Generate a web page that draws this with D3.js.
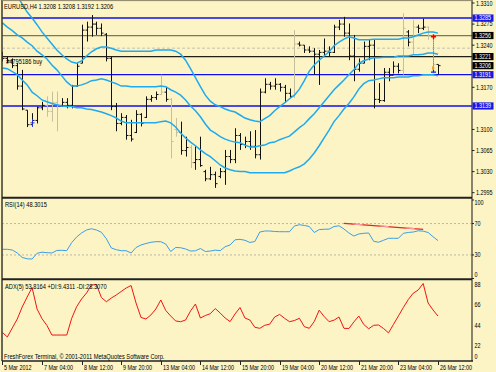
<!DOCTYPE html>
<html><head><meta charset="utf-8">
<script src="https://cdn.jsdelivr.net/npm/d3@7"></script>
<style>
html,body{margin:0;padding:0;background:#fcf4c4;}
svg{display:block;}
text{font-family:"Liberation Sans",Arial,sans-serif;font-size:6.8px;fill:#000;}
</style></head><body><svg id="c" width="496" height="372"></svg>
<script>
// ---------- data ----------
const title = "EURUSD,H4 1.3208 1.3208 1.3192 1.3206";
const rsiTitle = "RSI(14) 48.3015";
const adxTitle = "ADX(5) 53.8164 +DI:9.4311 -DI:28.3070";
const copyright = "FreshForex Terminal, \u00a9 2001-2011 MetaQuotes Software Corp.";
const orderText = "#4795186 buy";

const dateLabels = ["5 Mar 2012","7 Mar 04:00","8 Mar 12:00","9 Mar 20:00","13 Mar 04:00","14 Mar 12:00","15 Mar 20:00","19 Mar 04:00","20 Mar 12:00","21 Mar 20:00","23 Mar 04:00","26 Mar 12:00"];
const dateBars = [0,8,16,24,32,40,48,56,64,72,80,88];

const high = [1.3229,1.3221,1.3218,1.3210,1.3199,1.3132,1.3127,1.3138,1.3146,1.3155,
1.3163,1.3163,1.3152,1.3152,1.3174,1.3210,1.3274,1.3279,1.3290,1.3279,
1.3276,1.3260,1.3221,1.3144,1.3127,1.3124,1.3116,1.3132,1.3127,1.3155,
1.3157,1.3163,1.3191,1.3171,1.3152,1.3119,1.3113,1.3088,1.3074,1.3072,
1.3088,1.3033,1.3038,1.3030,1.3036,1.3066,1.3066,1.3102,1.3094,1.3088,
1.3097,1.3099,1.3168,1.3185,1.3179,1.3185,1.3177,1.3174,1.3168,1.3265,
1.3246,1.3240,1.3238,1.3235,1.3232,1.3251,1.3238,1.3274,1.3282,1.3287,
1.3276,1.3257,1.3218,1.3246,1.3249,1.3249,1.3177,1.3202,1.3202,1.3213,
1.3210,1.3293,1.3265,1.3282,1.3274,1.3284,1.3271,1.3256,1.3208];
const low = [1.3213,1.3210,1.3202,1.3166,1.3132,1.3104,1.3105,1.3110,1.3132,1.3121,
1.3113,1.3097,1.3138,1.3135,1.3135,1.3171,1.3210,1.3246,1.3254,1.3257,
1.3255,1.3213,1.3132,1.3097,1.3107,1.3083,1.3080,1.3094,1.3105,1.3119,
1.3146,1.3149,1.3157,1.3146,1.3052,1.3088,1.3058,1.3055,1.3036,1.3033,
1.3038,1.3014,1.3016,1.3003,1.3019,1.3008,1.3044,1.3044,1.3066,1.3069,
1.3066,1.3052,1.3050,1.3160,1.3166,1.3166,1.3163,1.3144,1.3152,1.3152,
1.3238,1.3227,1.3227,1.3191,1.3174,1.3221,1.3221,1.3227,1.3265,1.3254,
1.3215,1.3180,1.3196,1.3210,1.3215,1.3135,1.3144,1.3146,1.3180,1.3193,
1.3193,1.3191,1.3238,1.3224,1.3260,1.3265,1.3249,1.3193,1.3192];
const open = [1.3225,1.3218,1.3214,1.3206,1.3172,1.3132,1.3108,1.3115,1.3136,1.3140,
1.3130,1.3145,1.3140,1.3145,1.3140,1.3172,1.3210,1.3265,1.3270,1.3275,
1.3268,1.3258,1.3218,1.3138,1.3110,1.3120,1.3090,1.3095,1.3125,1.3120,
1.3150,1.3153,1.3158,1.3162,1.3150,1.3100,1.3095,1.3065,1.3070,1.3045,
1.3050,1.3030,1.3018,1.3025,1.3022,1.3030,1.3055,1.3050,1.3090,1.3075,
1.3080,1.3072,1.3058,1.3162,1.3175,1.3172,1.3175,1.3170,1.3160,1.3155,
1.3242,1.3240,1.3232,1.3230,1.3225,1.3228,1.3230,1.3228,1.3270,1.3275,
1.3260,1.3222,1.3200,1.3210,1.3238,1.3240,1.3150,1.3148,1.3195,1.3190,
1.3205,1.3198,1.3262,1.3245,1.3270,1.3268,1.3270,1.3255,1.3208];
const close = [1.3218,1.3214,1.3206,1.3172,1.3134,1.3108,1.3115,1.3136,1.3140,1.3130,
1.3145,1.3140,1.3145,1.3140,1.3172,1.3205,1.3265,1.3270,1.3275,1.3268,
1.3260,1.3218,1.3138,1.3110,1.3120,1.3090,1.3084,1.3125,1.3110,1.3150,
1.3153,1.3158,1.3162,1.3150,1.3080,1.3095,1.3065,1.3070,1.3045,1.3050,
1.3040,1.3018,1.3025,1.3010,1.3030,1.3055,1.3050,1.3090,1.3075,1.3080,
1.3072,1.3058,1.3162,1.3175,1.3172,1.3175,1.3170,1.3160,1.3155,1.3242,
1.3240,1.3232,1.3230,1.3225,1.3228,1.3230,1.3228,1.3270,1.3275,1.3260,
1.3222,1.3200,1.3210,1.3238,1.3240,1.3150,1.3148,1.3195,1.3190,1.3205,
1.3198,1.3268,1.3245,1.3270,1.3268,1.3270,1.3255,1.3208,1.3206];
// bars shown in the lighter tone
const lightBars = [9,10,11,32,34,35,38,59,81,83,86,87];

const bbUpper = [1.3358,1.3346,1.3333,1.3322,1.3308,1.3295,1.3285,1.3274,1.3262,1.3252,
1.3242,1.3232,1.3224,1.3217,1.3212,1.3210,1.3214,1.3222,1.3229,1.3234,
1.3237,1.3237,1.3235,1.3232,1.3230,1.3230,1.3230,1.3230,1.3230,1.3230,
1.3230,1.3232,1.3232,1.3232,1.3232,1.3230,1.3225,1.3215,1.3201,1.3186,
1.3171,1.3157,1.3147,1.3141,1.3138,1.3134,1.3131,1.3129,1.3124,1.3119,
1.3116,1.3114,1.3113,1.3118,1.3123,1.3131,1.3138,1.3144,1.3151,1.3157,
1.3167,1.3181,1.3197,1.3207,1.3215,1.3222,1.3229,1.3239,1.3245,1.3250,
1.3254,1.3252,1.3249,1.3249,1.3249,1.3250,1.3250,1.3250,1.3250,1.3250,
1.3250,1.3252,1.3252,1.3254,1.3257,1.3260,1.3262,1.3262,1.3260];
const bbMiddle = [1.3277,1.3270,1.3264,1.3257,1.3252,1.3245,1.3239,1.3230,1.3224,1.3217,
1.3207,1.3199,1.3189,1.3179,1.3172,1.3172,1.3174,1.3177,1.3181,1.3182,
1.3184,1.3182,1.3179,1.3176,1.3172,1.3172,1.3171,1.3171,1.3171,1.3171,
1.3171,1.3171,1.3172,1.3171,1.3166,1.3162,1.3157,1.3149,1.3139,1.3131,
1.3121,1.3109,1.3099,1.3094,1.3088,1.3084,1.3081,1.3079,1.3078,1.3074,
1.3071,1.3071,1.3073,1.3074,1.3078,1.3079,1.3083,1.3086,1.3089,1.3096,
1.3103,1.3109,1.3118,1.3126,1.3136,1.3146,1.3156,1.3166,1.3174,1.3182,
1.3191,1.3199,1.3210,1.3214,1.3217,1.3219,1.3219,1.3220,1.3220,1.3220,
1.3222,1.3222,1.3222,1.3224,1.3224,1.3225,1.3227,1.3227,1.3225];
const bbLower = [1.3202,1.3201,1.3196,1.3191,1.3182,1.3174,1.3162,1.3156,1.3149,1.3146,
1.3143,1.3141,1.3139,1.3138,1.3138,1.3136,1.3136,1.3134,1.3133,1.3131,
1.3129,1.3126,1.3123,1.3119,1.3114,1.3111,1.3111,1.3111,1.3111,1.3111,
1.3111,1.3111,1.3113,1.3114,1.3111,1.3104,1.3094,1.3086,1.3079,1.3073,
1.3066,1.3060,1.3055,1.3048,1.3041,1.3036,1.3033,1.3031,1.3030,1.3030,
1.3028,1.3028,1.3028,1.3028,1.3028,1.3028,1.3028,1.3028,1.3031,1.3035,
1.3038,1.3043,1.3051,1.3061,1.3073,1.3086,1.3099,1.3113,1.3123,1.3134,
1.3143,1.3154,1.3167,1.3176,1.3181,1.3182,1.3184,1.3186,1.3186,1.3186,
1.3187,1.3187,1.3187,1.3189,1.3189,1.3191,1.3191,1.3191,1.3189];

const rsi = [37.2,37.2,36.3,32.5,26.8,25.1,24.8,32.1,33.5,32.9,
32.5,35.7,35.9,35.5,45.7,52.9,58.0,61.8,63.4,61.8,
58.9,50.6,38.9,36.7,35.4,35.4,32.5,39.5,42.7,44.6,
46.1,46.9,46.9,43.9,34.4,39.5,39.2,37.6,35.0,35.3,
38.2,34.4,35.0,36.1,35.5,40.5,42.7,49.3,49.9,48.7,
45.9,47.1,59.2,60.5,60.5,59.9,59.6,59.6,59.6,66.9,
68.5,67.6,66.2,58.6,62.3,62.7,62.9,66.2,67.1,63.1,
58.0,54.1,56.7,57.6,58.0,47.4,46.2,48.7,51.2,51.2,
51.2,57.6,58.6,59.2,60.8,60.3,58.6,53.2,48.3];
const adx = [36.0,31.1,40.9,50.6,63.7,74.5,84.8,61.5,51.0,43.6,
33.2,33.2,33.2,33.2,51.4,64.0,72.4,78.9,87.6,88.0,
74.0,69.4,73.4,76.7,80.5,84.3,87.0,68.0,52.3,50.6,
55.0,61.5,71.3,59.9,53.9,48.5,47.7,49.5,59.3,66.9,
51.7,54.4,56.4,62.0,57.1,51.7,47.8,56.1,63.1,51.7,
49.5,41.6,40.5,43.8,45.0,52.8,55.6,51.4,47.7,49.0,
51.4,42.3,40.5,47.9,60.2,53.3,47.7,49.4,52.8,40.5,
40.3,47.4,53.9,44.7,40.0,43.8,44.1,40.3,35.6,44.7,
53.9,63.1,71.8,78.7,82.1,89.2,68.0,60.4,53.8];

const priceTicks = [1.3310,1.3275,1.3240,1.3170,1.3100,1.3065,1.3030,1.2995];
const blueLevels = [1.3285,1.3191,1.3139];
const darkLevels = [1.3256,1.3221];
const bidPrice = 1.3206;
const orderLevel = 1.3235;
const rsiTicks = [100,70,30,0];
const rsiLevels = [70,30];
const adxTicks = [88,66,44,22,0];
// RSI trend line (bar index, value)
const rsiTrend = [[69,70.3],[85,62.7]];
// trade marks
const tradeBar = 87, tradeOpen = 1.3254, tradeClose = 1.3197;
const buyMarkBar = 6, buyMarkPrice = 1.3111;

// ---------- drawing ----------
const W = 496, H = 372, L = 2, R = 472;
const BG = "#fcf4c4";
const svg = d3.select("#c");
svg.append("rect").attr("width", W).attr("height", H).attr("fill", BG);

const N = close.length;
const x = d3.scaleLinear().domain([0, N - 1]).range([2.4, 438]);
const y = d3.scaleLinear().domain([1.2987, 1.3315]).range([197.5, 0]);
const yR = d3.scaleLinear().domain([0, 100]).range([278.5, 200]);
const yA = d3.scaleLinear().domain([5, 93]).range([361, 280]);

const defs = svg.append("defs");
[["cm", 0, 197], ["cr", 199, 80], ["ca", 280.5, 80.5]].forEach(([id, top, h]) => {
  defs.append("clipPath").attr("id", id).append("rect").attr("x", L).attr("y", top).attr("width", R - L).attr("height", h);
});

const gMain = svg.append("g").attr("clip-path", "url(#cm)");
const gRsi = svg.append("g").attr("clip-path", "url(#cr)");
const gAdx = svg.append("g").attr("clip-path", "url(#ca)");

// horizontal levels
gMain.append("line").attr("x1", L).attr("x2", R).attr("y1", y(orderLevel)).attr("y2", y(orderLevel))
  .attr("stroke", "#c4c2b4").attr("stroke-dasharray", "3,2").attr("stroke-width", 1);
gMain.selectAll("line.blue").data(blueLevels).join("line").attr("class", "blue")
  .attr("x1", L).attr("x2", R).attr("y1", d => y(d)).attr("y2", d => y(d))
  .attr("stroke", "#1010e8").attr("stroke-width", 1.4);
gMain.selectAll("line.dark").data(darkLevels).join("line").attr("class", "dark")
  .attr("x1", L).attr("x2", R).attr("y1", d => y(d)).attr("y2", d => y(d))
  .attr("stroke", (d, i) => i === 0 ? "#7d765c" : "#202018").attr("stroke-width", 1.2);

// OHLC bars
const ohlc = d3.range(N).map(i => ({i, o: open[i], h: high[i], l: low[i], c: close[i]}));
const px = i => Math.round(x(i)) + 0.5;
const bar = gMain.selectAll("g.bar").data(ohlc).join("g").attr("class", "bar")
  .attr("stroke", d => lightBars.includes(d.i) ? "#c6bf9f" : "#111").attr("stroke-width", 1);
bar.append("line").attr("x1", d => px(d.i)).attr("x2", d => px(d.i)).attr("y1", d => y(d.h)).attr("y2", d => y(d.l));
bar.append("line").attr("x1", d => px(d.i) - 2).attr("x2", d => px(d.i)).attr("y1", d => y(d.o)).attr("y2", d => y(d.o));
bar.append("line").attr("x1", d => px(d.i)).attr("x2", d => px(d.i) + 2).attr("y1", d => y(d.c)).attr("y2", d => y(d.c));

// Bollinger bands
const bandLine = d3.line().x((d, i) => x(i)).y(d => y(d));
[bbUpper, bbMiddle, bbLower].forEach(s => {
  gMain.append("path").attr("d", bandLine(s)).attr("fill", "none").attr("stroke", "#1eaaf0").attr("stroke-width", 1.5);
});

// trade marks
const tx = px(tradeBar);
gMain.append("line").attr("x1", tx).attr("x2", tx).attr("y1", y(tradeOpen)).attr("y2", y(tradeClose))
  .attr("stroke", "#e05050").attr("stroke-dasharray", "1,1");
gMain.append("path").attr("d", `M${tx-2.5},${y(tradeOpen)}h5M${tx},${y(tradeOpen)-2.5}v5`).attr("stroke", "#f00000").attr("stroke-width", 1.4);
gMain.append("path").attr("d", `M${tx-1.5},${y(tradeClose)-5}l3,2l-3,2z`).attr("fill", "#f0a020");
gMain.append("path").attr("d", `M${tx-2.5},${y(tradeClose)+1}h5M${tx},${y(tradeClose)+1}v-2`).attr("stroke", "#1020e0").attr("stroke-width", 1.2);
const bx = px(buyMarkBar);
gMain.append("path").attr("d", `M${bx},${y(buyMarkPrice)-4}v8M${bx-2},${y(buyMarkPrice)}h4`).attr("stroke", "#2030e0").attr("stroke-width", 1);

// RSI panel
gRsi.selectAll("line.lvl").data(rsiLevels).join("line").attr("class", "lvl")
  .attr("x1", L).attr("x2", R).attr("y1", d => yR(d)).attr("y2", d => yR(d))
  .attr("stroke", "#b9b8a8").attr("stroke-dasharray", "2,2");
gRsi.append("path").attr("d", d3.line().x((d, i) => x(i)).y(d => yR(d))(rsi))
  .attr("fill", "none").attr("stroke", "#3a9ee8").attr("stroke-width", 1);
const trend = d3.line().x(d => x(d[0])).y(d => yR(d[1]))(rsiTrend);
gRsi.append("path").attr("d", trend).attr("stroke", "#ee2020").attr("stroke-width", 1.2).attr("fill", "none");
gRsi.append("path").attr("d", trend).attr("stroke", "#f6a0a0").attr("stroke-width", 1.2).attr("fill", "none")
  .attr("stroke-dasharray", "9,17").attr("stroke-dashoffset", -10);

// ADX panel
gAdx.append("path").attr("d", d3.line().x((d, i) => x(i)).y(d => yA(d))(adx))
  .attr("fill", "none").attr("stroke", "#f01414").attr("stroke-width", 1);

// frames
const frame = svg.append("g").attr("fill", "none");
frame.append("line").attr("x1", L).attr("x2", L).attr("y1", 0).attr("y2", 361).attr("stroke", "#3a3a30").attr("stroke-width", 1.5);
frame.append("line").attr("x1", R).attr("x2", R).attr("y1", 0).attr("y2", 361).attr("stroke", "#3a3a30").attr("stroke-width", 1.2);
frame.append("line").attr("x1", L).attr("x2", R).attr("y1", 0.6).attr("y2", 0.6).attr("stroke", "#8a8468").attr("stroke-width", 1);
[197.7, 279.3].forEach(v => frame.append("line").attr("x1", L).attr("x2", R).attr("y1", v).attr("y2", v).attr("stroke", "#222").attr("stroke-width", 2));
frame.append("line").attr("x1", L).attr("x2", R + 1).attr("y1", 361).attr("y2", 361).attr("stroke", "#222").attr("stroke-width", 1.4);

// price axis
const ax = svg.append("g");
ax.selectAll("line.pt").data(priceTicks).join("line").attr("class", "pt")
  .attr("x1", R).attr("x2", R + 2.5).attr("y1", d => y(d)).attr("y2", d => y(d)).attr("stroke", "#222");
ax.selectAll("text.pt").data(priceTicks).join("text").attr("class", "pt sq")
  .attr("x", 476).attr("y", d => Math.max(y(d), 3.5) + 2.4).text(d => d.toFixed(4));

const boxes = [...blueLevels.map(v => ({v, f: "#1818e6"})), ...darkLevels.map(v => ({v, f: "#000"})), {v: bidPrice, f: "#000"}];
const bxg = ax.selectAll("g.box").data(boxes).join("g").attr("class", "box");
bxg.append("rect").attr("x", R + 0.5).attr("y", d => y(d.v) - 3.6).attr("width", 21).attr("height", 7.2).attr("fill", d => d.f);
bxg.append("text").attr("class", "sq").attr("x", 474.5).attr("y", d => y(d.v) + 2.4).style("fill", "#fff").text(d => d.v.toFixed(4));

// RSI axis
ax.selectAll("text.rt").data(rsiTicks).join("text").attr("class", "rt sq")
  .attr("x", 474.5).attr("y", d => Math.min(Math.max(yR(d), 203), 275) + 2.4).text(d => d);
ax.selectAll("line.rt").data(rsiTicks).join("line").attr("class", "rt")
  .attr("x1", R).attr("x2", R + 2).attr("y1", d => yR(d)).attr("y2", d => yR(d)).attr("stroke", "#222");
// ADX axis
ax.selectAll("text.at").data(adxTicks).join("text").attr("class", "at sq")
  .attr("x", 474.5).attr("y", d => Math.min(Math.max(yA(d), 284), 357) + 2.4).text(d => d);

// date axis
ax.selectAll("line.dt").data(dateBars).join("line").attr("class", "dt")
  .attr("x1", d => px(d)).attr("x2", d => px(d)).attr("y1", 361).attr("y2", 365).attr("stroke", "#222");
ax.selectAll("text.dt").data(dateLabels).join("text").attr("class", "dt sq")
  .attr("x", (d, i) => px(dateBars[i]) + 1.5).attr("y", 369.5).text(d => d);

// headers
const hd = svg.append("g");
hd.append("text").attr("class", "hd").attr("x", 4).attr("y", 8.5).text(title);
hd.append("text").attr("class", "hd").attr("x", 5).attr("y", 206.6).text(rsiTitle);
hd.append("text").attr("class", "hd").attr("x", 5).attr("y", 289).text(adxTitle);
hd.append("text").attr("class", "hd").attr("x", 4).attr("y", 358.5).text(copyright);
hd.append("text").attr("class", "hd").attr("x", 6).attr("y", 64).text(orderText);

// narrow the glyphs like the terminal font
svg.selectAll("text").each(function() {
  const f = this.classList.contains("hd") ? 0.84 : 0.8;
  const w = this.getComputedTextLength();
  d3.select(this).attr("textLength", w * f).attr("lengthAdjust", "spacingAndGlyphs");
});
</script></body></html>
